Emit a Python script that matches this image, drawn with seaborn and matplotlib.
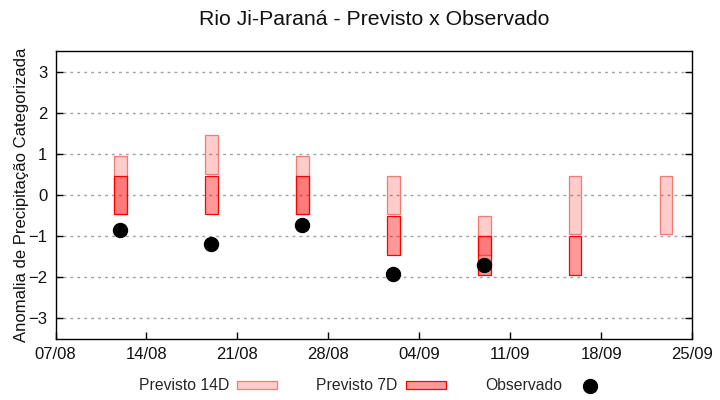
import numpy as np
import pandas as pd
import seaborn as sns
import matplotlib
matplotlib.use("Agg")
import matplotlib.pyplot as plt
import matplotlib.dates as mdates
from matplotlib.patches import Patch
from matplotlib.lines import Line2D

# forecast dates (one per week)
datas = ["2019-08-12", "2019-08-19", "2019-08-26", "2019-09-02",
         "2019-09-09", "2019-09-16", "2019-09-23"]
# Previsto 14D: lower / upper limit of the category
p14_low = [-0.45, 0.5, -0.45, -0.45, -1.45, -0.95, -0.95]
p14_high = [0.95, 1.45, 0.95, 0.45, -0.5, 0.45, 0.45]
# Previsto 7D (no forecast for the last week)
p7_low = [-0.45, -0.45, -0.45, -1.45, -1.95, -1.95, np.nan]
p7_high = [0.45, 0.45, 0.45, -0.5, -1.0, -1.0, np.nan]
# Observado
obs = [-0.84, -1.2, -0.74, -1.91, -1.71, np.nan, np.nan]

xticks = pd.date_range("2019-08-07", "2019-09-25", freq="7D")

df = pd.DataFrame({"data": pd.to_datetime(datas),
                   "p14_low": p14_low, "p14_high": p14_high,
                   "p7_low": p7_low, "p7_high": p7_high, "obs": obs})

sns.set_style("white")
plt.rcParams['font.family'] = ['Liberation Sans', 'DejaVu Sans']

fig = plt.figure(figsize=(7.2, 4), dpi=100)
ax = fig.add_axes([0.0771, 0.1525, 0.8844, 0.72])

c14_face = (1, 0, 0, 0.2)
c14_edge = "#f77a70"
c7_face = (1, 0, 0, 0.4)
c7_edge = "red"

ax.bar(df["data"], df["p14_high"] - df["p14_low"], bottom=df["p14_low"],
       width=0.95, color=c14_face, edgecolor=c14_edge, linewidth=0.9, zorder=3)
m7 = df["p7_low"].notna()
ax.bar(df.loc[m7, "data"], df.loc[m7, "p7_high"] - df.loc[m7, "p7_low"],
       bottom=df.loc[m7, "p7_low"], width=0.95, color=c7_face,
       edgecolor=c7_edge, linewidth=0.9, zorder=4)
sns.scatterplot(data=df.dropna(subset=["obs"]), x="data", y="obs", ax=ax,
                color="black", s=105, edgecolor="black", zorder=5, legend=False)

ax.set_xlim(xticks[0], xticks[-1])
ax.set_ylim(-3.5, 3.5)
ax.set_yticks(range(-3, 4))
ax.set_xticks(xticks)
ax.xaxis.set_major_formatter(mdates.DateFormatter("%d/%m"))
ax.yaxis.grid(True, color="#a0a0a0", linestyle=(0, (2, 3)), linewidth=1)
ax.xaxis.grid(False)
ax.tick_params(axis="both", direction="in", length=5, width=1, color="black",
               labelsize=12, labelcolor="#111111")
ax.tick_params(axis="y", right=True, left=True, pad=6)
ax.tick_params(axis="x", bottom=True, pad=6)
for s in ax.spines.values():
    s.set_color("black")
    s.set_linewidth(1)

ax.set_xlabel("")
ax.set_ylabel("Anomalia de Precipitação Categorizada", fontsize=12,
              color="#111111", labelpad=-1)
ax.set_title("Rio Ji-Paraná - Previsto x Observado", fontsize=15.3,
             color="#111111", pad=19)

handles = [Patch(facecolor=c14_face, edgecolor=c14_edge, linewidth=0.9),
           Patch(facecolor=c7_face, edgecolor=c7_edge, linewidth=0.9),
           Line2D([], [], marker="o", color="black", linestyle="none",
                  markersize=10)]
fig.legend(handles, ["Previsto 14D", "Previsto 7D", "Observado"],
           loc="center", bbox_to_anchor=(0.52, 0.035), ncol=3,
           markerfirst=False, frameon=False, fontsize=11.3,
           handlelength=2.55, handleheight=0.45, handletextpad=0.5,
           columnspacing=2.5)

fig.savefig("out.png", dpi=100)
